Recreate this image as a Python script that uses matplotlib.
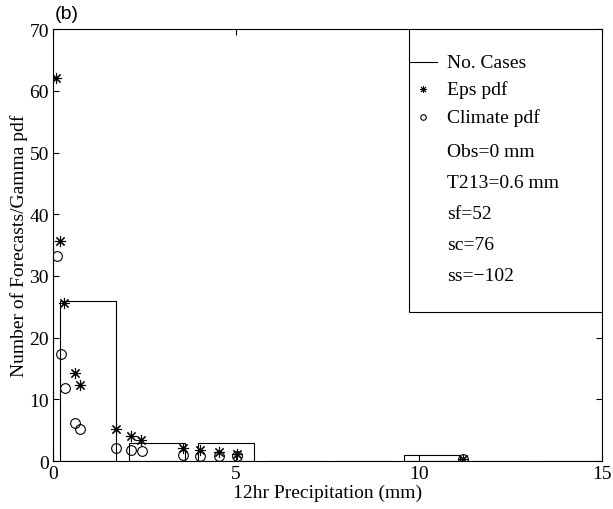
import matplotlib
matplotlib.use('Agg')
import matplotlib.pyplot as plt
from matplotlib.patches import Rectangle
from matplotlib.lines import Line2D

# Histogram of number of cases (bar centres / heights)
bar_centers = [0.96, 2.84, 4.72, 6.60, 8.48, 10.36, 12.24, 14.12]
bar_counts = [26, 3, 3, 0, 0, 1, 0, 0]
bar_width = 1.52

# observation line
obs_value = 0.0
obs_height = 36

# EPS gamma pdf (scaled)
eps_x = [0.08, 0.20, 0.29, 0.61, 0.73, 1.72, 2.13, 2.41, 3.54, 4.02, 4.54, 5.03, 11.2]
eps_y = [62.0, 35.7, 25.6, 14.2, 12.4, 5.2, 4.0, 3.45, 2.1, 1.8, 1.4, 1.13, 0.3]

# Climate gamma pdf (scaled)
clim_x = [0.11, 0.22, 0.32, 0.61, 0.73, 1.72, 2.13, 2.43, 3.54, 4.02, 4.54, 5.03, 11.2]
clim_y = [33.3, 17.3, 11.8, 6.2, 5.2, 2.1, 1.8, 1.6, 1.0, 0.9, 0.9, 0.8, 0.3]

legend_labels = ['No. Cases', 'Eps pdf', 'Climate pdf', 'Obs=0 mm',
                 'T213=0.6 mm', 'sf=52', 'sc=76', 'ss=\u2212102']

plt.rcParams['font.family'] = ['Liberation Serif', 'DejaVu Serif']
plt.rcParams['font.size'] = 14

fig = plt.figure(figsize=(6.13, 5.10), dpi=100)
ax = fig.add_axes([0.0865, 0.094, 0.8955, 0.847])

ax.bar(bar_centers, bar_counts, width=bar_width, fill=False,
       edgecolor='black', linewidth=0.8)
ax.vlines(obs_value, 0, obs_height, color='black', linewidth=0.8)
ax.plot(eps_x, eps_y, ls='', marker=(8, 2, 0), ms=8, mec='black', mew=0.8)
ax.plot(clim_x, clim_y, ls='', marker='o', ms=7, mfc='none', mec='black', mew=0.8)

ax.set_xlim(0, 15)
ax.set_ylim(0, 70)
ax.set_xticks([0, 5, 10, 15])
ax.set_yticks(range(0, 71, 10))
ax.tick_params(direction='in', top=True, right=True, length=4, width=0.8, labelsize=14,
               pad=3)
for s in ax.spines.values():
    s.set_linewidth(0.8)
ax.set_xlabel('12hr Precipitation (mm)', labelpad=1)
ax.set_ylabel('Number of Forecasts/Gamma pdf', labelpad=1)

# legend box in upper right corner
x0, y0 = 0.648, 0.345
ax.add_patch(Rectangle((x0, y0), 1 - x0, 1 - y0, transform=ax.transAxes,
                       facecolor='white', edgecolor='black', linewidth=0.8, zorder=5))
rows_px = [63, 90, 118, 152, 183, 214, 245, 276]
for i, (lab, py) in enumerate(zip(legend_labels, rows_px)):
    ya = (462 - py) / 432
    if i == 0:
        ax.add_line(Line2D([0.650, 0.700], [ya, ya], transform=ax.transAxes,
                           color='black', linewidth=0.8, zorder=6))
    elif i == 1:
        ax.plot([0.674], [ya], transform=ax.transAxes, marker=(8, 2, 0), ms=5,
                mec='black', mew=0.7, zorder=6)
    elif i == 2:
        ax.plot([0.674], [ya], transform=ax.transAxes, marker='o', ms=4,
                mfc='none', mec='black', mew=0.8, zorder=6)
    ax.text(0.718, ya, lab, transform=ax.transAxes, va='center', ha='left',
            fontsize=14, zorder=7)

fig.text(0.09, 0.972, '(b)', family='Liberation Sans', fontsize=14, va='center')

fig.savefig('out.png', dpi=100)
